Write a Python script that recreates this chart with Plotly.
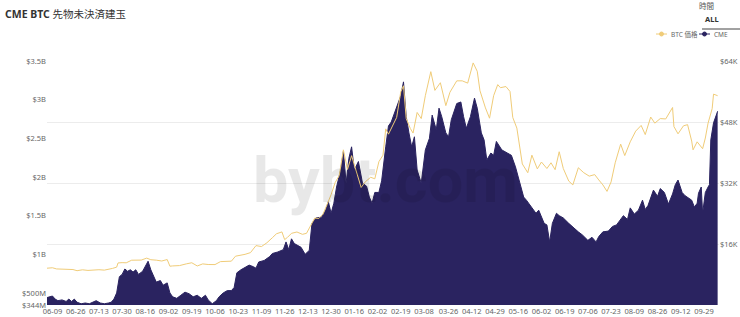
import plotly.graph_objects as go

# ---------------- data ----------------
cme_dates = [
    "2020-06-05", "2020-06-07", "2020-06-09", "2020-06-11", "2020-06-13", "2020-06-16", "2020-06-19",
    "2020-06-21", "2020-06-23", "2020-06-25", "2020-06-27", "2020-06-30", "2020-07-03", "2020-07-06",
    "2020-07-09", "2020-07-11", "2020-07-14", "2020-07-17", "2020-07-20", "2020-07-22", "2020-07-24",
    "2020-07-26", "2020-07-28", "2020-07-30", "2020-08-01", "2020-08-03", "2020-08-05", "2020-08-07",
    "2020-08-09", "2020-08-11", "2020-08-14", "2020-08-16", "2020-08-18", "2020-08-20", "2020-08-22",
    "2020-08-24", "2020-08-27", "2020-08-29", "2020-09-01", "2020-09-03", "2020-09-05", "2020-09-08",
    "2020-09-11", "2020-09-14", "2020-09-17", "2020-09-20", "2020-09-23", "2020-09-26", "2020-09-29",
    "2020-10-01", "2020-10-04", "2020-10-07", "2020-10-09", "2020-10-12", "2020-10-15", "2020-10-18",
    "2020-10-20", "2020-10-22", "2020-10-25", "2020-10-28", "2020-10-31", "2020-11-03", "2020-11-05",
    "2020-11-07", "2020-11-11", "2020-11-15", "2020-11-17", "2020-11-21", "2020-11-25", "2020-11-27",
    "2020-11-29", "2020-12-01", "2020-12-03", "2020-12-05", "2020-12-08", "2020-12-11", "2020-12-14",
    "2020-12-16", "2020-12-19", "2020-12-23", "2020-12-26", "2020-12-28", "2020-12-30", "2021-01-01",
    "2021-01-03", "2021-01-06", "2021-01-08", "2021-01-10", "2021-01-12", "2021-01-14", "2021-01-16",
    "2021-01-19", "2021-01-22", "2021-01-25", "2021-01-27", "2021-01-29", "2021-01-31", "2021-02-03",
    "2021-02-05", "2021-02-08", "2021-02-10", "2021-02-12", "2021-02-16", "2021-02-19", "2021-02-21",
    "2021-02-23", "2021-02-25", "2021-02-27", "2021-03-01", "2021-03-03", "2021-03-06", "2021-03-09",
    "2021-03-12", "2021-03-14", "2021-03-17", "2021-03-19", "2021-03-21", "2021-03-24", "2021-03-26",
    "2021-03-28", "2021-04-01", "2021-04-04", "2021-04-06", "2021-04-08", "2021-04-11", "2021-04-14",
    "2021-04-16", "2021-04-19", "2021-04-21", "2021-04-23", "2021-04-26", "2021-04-28", "2021-04-30",
    "2021-05-04", "2021-05-08", "2021-05-11", "2021-05-14", "2021-05-17", "2021-05-20", "2021-05-22",
    "2021-05-26", "2021-05-29", "2021-05-31", "2021-06-04", "2021-06-06", "2021-06-08", "2021-06-10",
    "2021-06-13", "2021-06-15", "2021-06-18", "2021-06-22", "2021-06-25", "2021-06-29", "2021-07-02",
    "2021-07-06", "2021-07-09", "2021-07-12", "2021-07-14", "2021-07-17", "2021-07-21", "2021-07-24",
    "2021-07-27", "2021-08-01", "2021-08-04", "2021-08-06", "2021-08-09", "2021-08-12", "2021-08-15",
    "2021-08-17", "2021-08-19", "2021-08-23", "2021-08-26", "2021-08-28", "2021-08-31", "2021-09-03",
    "2021-09-06", "2021-09-08", "2021-09-10", "2021-09-13", "2021-09-15", "2021-09-17", "2021-09-20",
    "2021-09-22", "2021-09-24", "2021-09-25", "2021-09-27", "2021-09-28", "2021-09-29", "2021-09-30",
    "2021-10-02", "2021-10-03", "2021-10-04", "2021-10-06", "2021-10-08", "2021-10-09",
]
cme_oi_billion = [
    0.44, 0.45, 0.46, 0.42, 0.40, 0.41, 0.39,
    0.42, 0.39, 0.42, 0.38, 0.36, 0.37, 0.36,
    0.38, 0.40, 0.37, 0.36, 0.37, 0.38, 0.42,
    0.50, 0.71, 0.74, 0.81, 0.78, 0.80, 0.77,
    0.80, 0.74, 0.78, 0.85, 0.91, 0.80, 0.71,
    0.64, 0.66, 0.60, 0.63, 0.50, 0.45, 0.43,
    0.47, 0.51, 0.49, 0.45, 0.47, 0.43, 0.47,
    0.41, 0.36, 0.40, 0.45, 0.50, 0.53, 0.53,
    0.57, 0.76, 0.80, 0.83, 0.86, 0.84, 0.82,
    0.90, 0.92, 0.97, 1.01, 1.03, 1.06, 1.16,
    1.06, 1.20, 1.14, 1.12, 1.09, 1.00, 1.05,
    1.40, 1.47, 1.48, 1.57, 1.68, 1.53, 1.66,
    1.87, 2.09, 2.33, 1.92, 2.24, 2.39, 2.09,
    2.20, 1.92, 1.88, 1.74, 1.66, 1.80, 1.80,
    1.95, 2.39, 2.66, 2.71, 2.91, 3.05, 3.23,
    2.78, 2.57, 2.39, 2.52, 2.09, 1.92, 2.35,
    2.50, 2.80, 2.61, 2.89, 2.78, 2.57, 2.52,
    2.74, 2.95, 2.97, 2.78, 2.63, 2.78, 3.02,
    2.89, 2.57, 2.48, 2.22, 2.31, 2.28, 2.46,
    2.35, 2.31, 2.28, 2.13, 1.92, 1.74, 1.70,
    1.61, 1.53, 1.57, 1.40, 1.38, 1.16, 1.40,
    1.53, 1.50, 1.47, 1.40, 1.35, 1.29, 1.25,
    1.18, 1.22, 1.16, 1.23, 1.29, 1.30, 1.36,
    1.38, 1.50, 1.45, 1.60, 1.52, 1.57, 1.70,
    1.58, 1.63, 1.83, 1.75, 1.85, 1.80, 1.65,
    1.78, 1.90, 1.96, 1.80, 1.76, 1.74, 1.70,
    1.61, 1.66, 1.79, 1.87, 1.53, 1.65, 1.80,
    1.87, 1.90, 2.48, 2.70, 2.80, 2.85,
]

btc_dates = [
    "2020-06-05", "2020-06-09", "2020-06-12", "2020-06-16", "2020-06-20", "2020-06-24", "2020-06-27",
    "2020-07-01", "2020-07-05", "2020-07-09", "2020-07-13", "2020-07-17", "2020-07-21", "2020-07-23",
    "2020-07-26", "2020-07-27", "2020-07-30", "2020-08-02", "2020-08-06", "2020-08-10", "2020-08-13",
    "2020-08-17", "2020-08-20", "2020-08-24", "2020-08-28", "2020-09-01", "2020-09-03", "2020-09-05",
    "2020-09-10", "2020-09-15", "2020-09-19", "2020-09-23", "2020-09-27", "2020-10-01", "2020-10-06",
    "2020-10-10", "2020-10-14", "2020-10-18", "2020-10-21", "2020-10-25", "2020-10-28", "2020-11-01",
    "2020-11-05", "2020-11-09", "2020-11-13", "2020-11-17", "2020-11-20", "2020-11-24", "2020-11-26",
    "2020-11-28", "2020-12-01", "2020-12-05", "2020-12-09", "2020-12-12", "2020-12-16", "2020-12-18",
    "2020-12-21", "2020-12-24", "2020-12-27", "2020-12-30", "2021-01-02", "2021-01-05", "2021-01-08",
    "2021-01-11", "2021-01-14", "2021-01-17", "2021-01-21", "2021-01-24", "2021-01-28", "2021-01-31",
    "2021-02-03", "2021-02-06", "2021-02-08", "2021-02-10", "2021-02-13", "2021-02-16", "2021-02-19",
    "2021-02-21", "2021-02-23", "2021-02-26", "2021-02-28", "2021-03-03", "2021-03-06", "2021-03-09",
    "2021-03-13", "2021-03-16", "2021-03-20", "2021-03-24", "2021-03-27", "2021-04-01", "2021-04-05",
    "2021-04-09", "2021-04-13", "2021-04-16", "2021-04-18", "2021-04-22", "2021-04-25", "2021-04-28",
    "2021-05-01", "2021-05-03", "2021-05-07", "2021-05-10", "2021-05-12", "2021-05-15", "2021-05-19",
    "2021-05-23", "2021-05-26", "2021-05-30", "2021-06-02", "2021-06-06", "2021-06-09", "2021-06-12",
    "2021-06-15", "2021-06-18", "2021-06-22", "2021-06-25", "2021-06-29", "2021-07-03", "2021-07-07",
    "2021-07-11", "2021-07-14", "2021-07-17", "2021-07-20", "2021-07-23", "2021-07-26", "2021-07-30",
    "2021-08-02", "2021-08-06", "2021-08-10", "2021-08-14", "2021-08-17", "2021-08-21", "2021-08-24",
    "2021-08-28", "2021-09-01", "2021-09-06", "2021-09-07", "2021-09-10", "2021-09-14", "2021-09-17",
    "2021-09-20", "2021-09-21", "2021-09-24", "2021-09-28", "2021-09-30", "2021-10-02", "2021-10-05",
    "2021-10-06", "2021-10-09",
]
btc_price = [
    9650, 9770, 9460, 9450, 9300, 9300, 9000,
    9230, 9070, 9250, 9250, 9150, 9390, 9600,
    9930, 11030, 11110, 11070, 11750, 11880, 11780,
    12300, 11880, 11760, 11540, 11920, 10170, 10250,
    10340, 10790, 11080, 10240, 10780, 10620, 10600,
    11380, 11430, 11500, 12800, 13030, 13290, 13740,
    15580, 15330, 16320, 17650, 18680, 19170, 17150,
    17720, 18800, 19150, 18540, 18800, 21310, 22800,
    22700, 23780, 26300, 28950, 32130, 33980, 40700,
    35560, 39170, 35790, 30830, 32300, 33500, 33100,
    37600, 39300, 46200, 44800, 47100, 49200, 55900,
    57500, 48900, 46300, 45100, 50500, 48900, 54900,
    61200, 56300, 58300, 52300, 55800, 58800, 58800,
    58200, 63500, 61300, 56200, 51700, 49000, 54900,
    57800, 57000, 57300, 56000, 49200, 46400, 37000,
    34700, 39300, 35700, 37500, 35800, 37300, 35500,
    40200, 35800, 32500, 31500, 36000, 34700, 33800,
    34200, 32800, 31500, 29800, 32300, 37300, 42200,
    39200, 42800, 45600, 47100, 44700, 49300, 47700,
    48900, 48800, 51800, 46800, 44900, 47000, 47300,
    43000, 40700, 42800, 41000, 43800, 47700, 51500,
    55300, 54900,
]

x_tick_dates = [
    "2020-06-09", "2020-06-26", "2020-07-13", "2020-07-30", "2020-08-16", "2020-09-02", "2020-09-19",
    "2020-10-06", "2020-10-23", "2020-11-09", "2020-11-26", "2020-12-13", "2020-12-30", "2021-01-16",
    "2021-02-02", "2021-02-19", "2021-03-08", "2021-03-26", "2021-04-12", "2021-04-29", "2021-05-16",
    "2021-06-02", "2021-06-19", "2021-07-06", "2021-07-23", "2021-08-09", "2021-08-26", "2021-09-12",
    "2021-09-29",
]
x_tick_labels = [d[5:] for d in x_tick_dates]

left_tick_vals = [0.344, 0.5, 1.0, 1.5, 2.0, 2.5, 3.0, 3.5]
left_tick_labels = ["$344M", "$500M", "$1B", "$1.5B", "$2B", "$2.5B", "$3B", "$3.5B"]
right_tick_vals = [16000, 32000, 48000, 64000]
right_tick_labels = ["$16K", "$32K", "$48K", "$64K"]

# ---------------- figure ----------------
W, H = 740, 317
ML, MR, MT, MB = 47, 21, 61, 12
PW, PH = W - ML - MR, H - MT - MB


def px(x):
    return (x - ML) / PW


def py(y):
    return (H - MB - y) / PH


NAVY = "#2a2360"
GOLD = "#f0cc78"
FONT = "Noto Sans, Noto Sans CJK JP, sans-serif"

fig = go.Figure()
fig.add_trace(go.Scatter(
    x=cme_dates, y=cme_oi_billion, name="CME", mode="lines",
    line=dict(color=NAVY, width=1), fill="tozeroy", fillcolor=NAVY,
    yaxis="y", showlegend=False,
))
fig.add_trace(go.Scatter(
    x=btc_dates, y=btc_price, name="BTC 価格", mode="lines",
    line=dict(color=GOLD, width=1), yaxis="y2", showlegend=False,
))

fig.update_layout(
    width=W, height=H,
    margin=dict(l=ML, r=MR, t=MT, b=MB),
    paper_bgcolor="white", plot_bgcolor="white",
    font=dict(family=FONT, color="#666", size=7),
    xaxis=dict(
        type="date", range=["2020-06-05", "2021-10-10"],
        tickvals=x_tick_dates, ticktext=x_tick_labels,
        tickfont=dict(size=7.5, color="#666"), showgrid=False, zeroline=False,
        showline=False, ticks="", ticklen=0, automargin=False,
    ),
    yaxis=dict(
        range=[0.344, 3.5], tickvals=left_tick_vals, ticktext=left_tick_labels,
        tickfont=dict(size=7.5, color="#666"), showgrid=False, zeroline=False,
        ticks="", automargin=False,
    ),
    yaxis2=dict(
        range=[0, 64000], overlaying="y", side="right",
        tickvals=right_tick_vals, ticktext=right_tick_labels,
        tickfont=dict(size=7.5, color="#666"), showgrid=True, gridcolor="#ececec",
        gridwidth=1, zeroline=False, ticks="", automargin=False,
    ),
    showlegend=False,
)

annotations = [
    dict(x=px(3), y=py(14), xref="paper", yref="paper", xanchor="left", yanchor="middle",
         text="<b>CME BTC</b> 先物未決済建玉", showarrow=False,
         font=dict(size=10.5, color="#333", family=FONT)),
    dict(x=px(706), y=py(6), xref="paper", yref="paper", xanchor="center", yanchor="middle",
         text="時間", showarrow=False, font=dict(size=7.5, color="#555", family=FONT)),
    dict(x=px(712), y=py(19), xref="paper", yref="paper", xanchor="center", yanchor="middle",
         text="<b>ALL</b>", showarrow=False, font=dict(size=7.5, color="#333", family=FONT)),
    dict(x=px(669), y=py(34), xref="paper", yref="paper", xanchor="left", yanchor="middle",
         text="BTC 価格", showarrow=False, font=dict(size=6.5, color="#666", family=FONT)),
    dict(x=px(712), y=py(34), xref="paper", yref="paper", xanchor="left", yanchor="middle",
         text="CME", showarrow=False, font=dict(size=6.5, color="#666", family=FONT)),
    dict(x=px(385), y=py(180), xref="paper", yref="paper",
         xanchor="center", yanchor="middle", text="<b>bybt.com</b>", showarrow=False,
         font=dict(size=63, color="rgba(0,0,0,0.09)", family="Roboto")),
]
fig.update_layout(annotations=annotations)

shapes = [
    dict(type="line", xref="paper", yref="paper", x0=px(702), x1=px(740), y0=py(29), y1=py(29),
         line=dict(color="#444", width=1)),
    dict(type="line", xref="paper", yref="paper", x0=px(656), x1=px(667), y0=py(34), y1=py(34),
         line=dict(color=GOLD, width=1)),
    dict(type="circle", xref="paper", yref="paper", x0=px(659.5), x1=px(663.5), y0=py(36), y1=py(32),
         line=dict(color=GOLD, width=1), fillcolor=GOLD),
    dict(type="line", xref="paper", yref="paper", x0=px(699), x1=px(710), y0=py(34), y1=py(34),
         line=dict(color=NAVY, width=1)),
    dict(type="circle", xref="paper", yref="paper", x0=px(702.5), x1=px(706.5), y0=py(36), y1=py(32),
         line=dict(color=NAVY, width=1), fillcolor=NAVY),
]
fig.update_layout(shapes=shapes)

fig.write_html("out.html")
